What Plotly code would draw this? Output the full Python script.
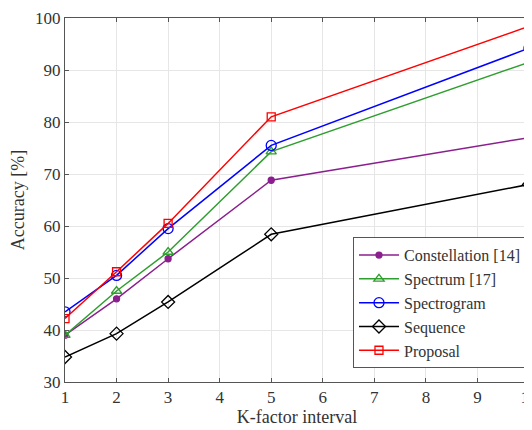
import plotly.graph_objects as go

k_factor = [1, 2, 3, 5, 10]
constellation = [39.0, 46.0, 53.7, 68.8, 77.0]
spectrum = [39.0, 47.5, 55.0, 74.3, 91.5]
spectrogram = [43.5, 50.5, 59.5, 75.5, 94.2]
sequence = [34.8, 39.3, 45.4, 58.4, 68.0]
proposal = [42.2, 51.2, 60.5, 81.0, 98.4]

series = [
    ("Constellation [14]", constellation, "#8B1F8E", "circle", 6),
    ("Spectrum [17]", spectrum, "#2E9E2E", "triangle-up-open", 9),
    ("Spectrogram", spectrogram, "#0000FF", "circle-open", 10),
    ("Sequence", sequence, "#000000", "diamond-open", 10),
    ("Proposal", proposal, "#FF0000", "square-open", 8),
]

fig = go.Figure()
for name, vals, color, sym, sz in series:
    fig.add_trace(go.Scatter(
        x=k_factor, y=vals, name=name, mode="lines+markers",
        line=dict(color=color, width=1.5),
        marker=dict(symbol=sym, size=sz, color=color, line=dict(color=color, width=1.3)),
    ))

SERIF = "Liberation Serif"
TXT = "#333333"
axis_common = dict(
    showgrid=True, gridcolor="#E6E6E6", gridwidth=1,
    showline=True, linecolor="#555555", linewidth=1, mirror="ticks",
    ticks="inside", ticklen=4, tickcolor="#555555",
    zeroline=False, tickfont=dict(family=SERIF, size=17, color=TXT),
    ticklabeloverflow="allow", automargin=False,
)
fig.update_xaxes(range=[1, 10], dtick=1,
                 title=dict(text="K-factor interval", font=dict(family=SERIF, size=18, color=TXT), standoff=2),
                 **axis_common)
fig.update_yaxes(range=[30, 100], dtick=10,
                 title=dict(text="Accuracy [%]", font=dict(family=SERIF, size=18, color=TXT), standoff=8),
                 **axis_common)

# page body has an 8px default margin; the figure is offset so the plot area lands where the reference has it
fig.update_layout(
    width=532, height=430,
    margin=dict(l=57, r=11, t=10, b=56),
    paper_bgcolor="white", plot_bgcolor="white",
    font=dict(family=SERIF, size=17, color=TXT),
    legend=dict(
        x=0.9935, xanchor="right", y=0.038, yanchor="bottom",
        bgcolor="white", bordercolor="#555555", borderwidth=1,
        font=dict(family=SERIF, size=16, color=TXT),
        tracegroupgap=0, itemwidth=40, entrywidth=140, entrywidthmode="pixels",
    ),
    showlegend=True,
)
fig.write_html("out.html")
